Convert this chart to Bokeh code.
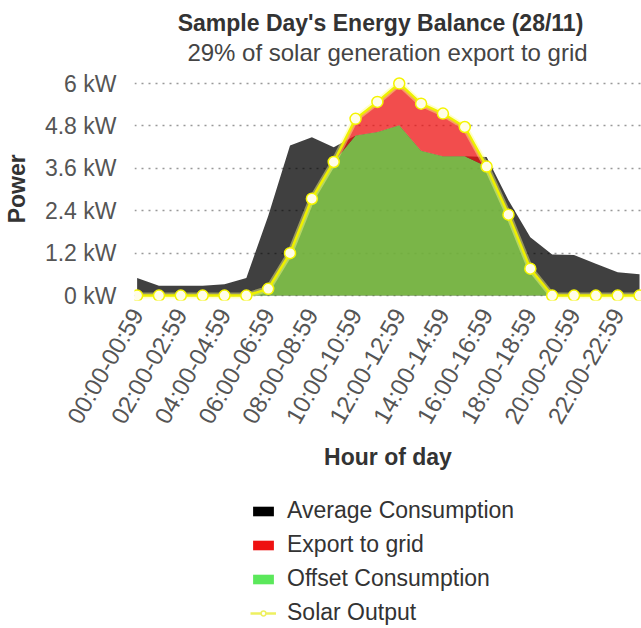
from bokeh.plotting import figure
from bokeh.layouts import column
from bokeh.models import Range1d, FixedTicker, Label, Legend, LegendItem, ColumnDataSource
from bokeh.embed import file_html
from bokeh.resources import INLINE

# ---- data ----
hours = ["%02d:00-%02d:59" % (h, h) for h in range(24)]
consumption = [0.50, 0.28, 0.28, 0.28, 0.32, 0.50, 2.25, 4.25, 4.48, 4.20, 4.53, 4.63,
               4.82, 4.10, 3.94, 3.94, 3.92, 2.70, 1.65, 1.16, 1.15, 0.90, 0.66, 0.60]
solar = [0.0, 0.0, 0.0, 0.0, 0.0, 0.0, 0.19, 1.20, 2.74, 3.78, 5.00, 5.48,
         6.00, 5.43, 5.15, 4.77, 3.65, 2.29, 0.76, 0.0, 0.0, 0.0, 0.0, 0.0]
y_ticks = [0, 1.2, 2.4, 3.6, 4.8, 6]
y_tick_labels = ["0 kW", "1.2 kW", "2.4 kW", "3.6 kW", "4.8 kW", "6 kW"]
x_ticks = list(range(0, 24, 2))
series_names = ["Average Consumption", "Export to grid", "Offset Consumption", "Solar Output"]
title_text = "Sample Day's Energy Balance (28/11)"
subtitle_text = "29% of solar generation export to grid"

offset = [min(c, s) for c, s in zip(consumption, solar)]
export_top = [o + max(s - c, 0) for c, s, o in zip(consumption, solar, offset)]

src = ColumnDataSource(dict(x=list(range(24)), cons=consumption, solar=solar,
                            offset=offset, export_top=export_top, zero=[0] * 24))

FONT = "Liberation Sans"

# frame spans from the very top so that the title lines can sit in it as screen-placed labels
p = figure(width=641, height=478, x_range=Range1d(-0.12, 23.09), y_range=Range1d(-0.14, 8.35),
           output_backend="svg", toolbar_location=None,
           min_border_left=125, min_border_right=0, min_border_top=0, min_border_bottom=178)
p.outline_line_color = None

p.add_layout(Label(x=246, y=278, x_units="screen", y_units="screen", text=title_text,
                   text_align="center", text_baseline="middle", text_font=FONT,
                   text_font_size="23px", text_font_style="bold", text_color="#333333"))
p.add_layout(Label(x=253, y=248, x_units="screen", y_units="screen", text=subtitle_text,
                   text_align="center", text_baseline="middle", text_font=FONT,
                   text_font_size="24px", text_color="#444444"))

# areas
p.varea(x="x", y1="zero", y2="cons", source=src, fill_color="black", fill_alpha=0.75)
p.varea(x="x", y1="zero", y2="offset", source=src, fill_color="#8ddc4b", fill_alpha=0.75)
p.varea(x="x", y1="offset", y2="export_top", source=src, fill_color="#ee1111", fill_alpha=0.75)

# solar line
p.line(x="x", y="solar", source=src, line_color="#ffff80", line_width=6, line_alpha=0.45)
p.line(x="x", y="solar", source=src, line_color="#eef000", line_width=2.5)
p.scatter(x="x", y="solar", source=src, size=11, marker="circle",
          fill_color="#fffde8", line_color="#f4f400", line_width=1.5)

# axes
p.xaxis.ticker = FixedTicker(ticks=x_ticks)
p.xaxis.major_label_overrides = {i: hours[i] for i in x_ticks}
p.xaxis.major_label_orientation = 1.05
p.xaxis.axis_line_color = None
p.xaxis.major_tick_line_color = None
p.xaxis.minor_tick_line_color = None
p.xaxis.major_label_standoff = 4
p.xaxis.major_label_text_font = FONT
p.xaxis.major_label_text_font_size = "24px"
p.xaxis.major_label_text_color = "#555555"
p.xaxis.axis_label = "Hour of day"
p.xaxis.axis_label_text_font = FONT
p.xaxis.axis_label_text_font_size = "23px"
p.xaxis.axis_label_text_font_style = "bold"
p.xaxis.axis_label_text_color = "#333333"
p.xaxis.axis_label_standoff = 6

p.yaxis.ticker = FixedTicker(ticks=y_ticks)
p.yaxis.major_label_overrides = {t: l for t, l in zip(y_ticks, y_tick_labels)}
p.yaxis.axis_line_color = None
p.yaxis.major_tick_line_color = None
p.yaxis.minor_tick_line_color = None
p.yaxis.major_label_standoff = 12
p.yaxis.major_label_text_font = FONT
p.yaxis.major_label_text_font_size = "23px"
p.yaxis.major_label_text_color = "#555555"
# trailing no-break spaces move the (centred) axis title down to the middle of the value range
p.yaxis.axis_label = "Power" + "\u00a0" * 12
p.yaxis.axis_label_text_font = FONT
p.yaxis.axis_label_text_font_size = "23px"
p.yaxis.axis_label_text_font_style = "bold"
p.yaxis.axis_label_text_color = "#333333"
p.yaxis.axis_label_standoff = 12

p.xgrid.grid_line_color = None
p.ygrid.ticker = FixedTicker(ticks=y_ticks)
p.ygrid.grid_line_color = "#999999"
p.ygrid.grid_line_dash = "2 5"
p.ygrid.grid_line_width = 1.5

# ---- legend (separate strip below the chart; its frame aligns with the chart's frame) ----
lg = figure(width=641, height=150, x_range=Range1d(0, 1), y_range=Range1d(0, 1),
            output_backend="svg", toolbar_location=None,
            x_axis_type=None, y_axis_type=None,
            min_border_left=0, min_border_right=0, min_border_top=0, min_border_bottom=0)
lg.outline_line_color = None
lg.grid.visible = False
# legend-only renderers: their data lie outside the (0, 1) ranges, so only the legend shows them
dummy = ColumnDataSource(dict(x=[10, 11], y=[11, 11], y0=[10, 10]))
l1 = lg.varea(x="x", y1="y0", y2="y", source=dummy, fill_color="black")
l2 = lg.varea(x="x", y1="y0", y2="y", source=dummy, fill_color="#ee1111")
l3 = lg.varea(x="x", y1="y0", y2="y", source=dummy, fill_color="#5be85b")
l4a = lg.line(x="x", y="y", source=dummy, line_color="#eef060", line_width=2.5)
l4b = lg.scatter(x="x", y="y", source=dummy, size=10, marker="circle",
                 fill_color="white", line_color="#eef060", line_width=1.5)
legend = Legend(items=[
    LegendItem(label=series_names[0], renderers=[l1]),
    LegendItem(label=series_names[1], renderers=[l2]),
    LegendItem(label=series_names[2], renderers=[l3]),
    LegendItem(label=series_names[3], renderers=[l4a, l4b]),
], location=(116, 2), orientation="vertical", border_line_color=None, background_fill_alpha=0,
    label_text_font=FONT, label_text_font_size="23px", label_text_color="#333333",
    glyph_width=26, glyph_height=12, label_standoff=11, spacing=7, padding=0, margin=0)
lg.add_layout(legend, "center")

open("out.html", "w").write(file_html(column(p, lg, spacing=0), INLINE))
